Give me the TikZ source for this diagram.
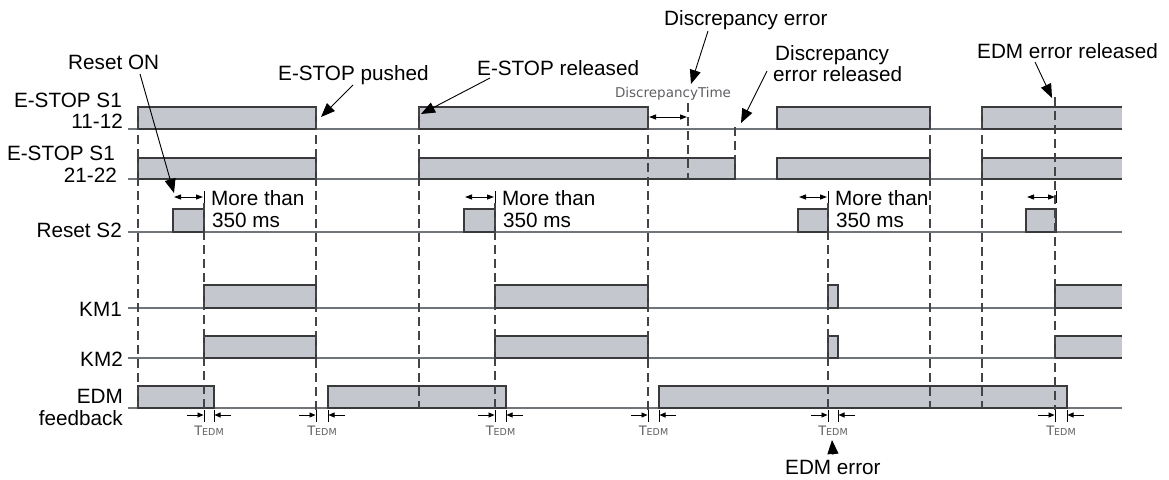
\documentclass[tikz,border=0pt]{standalone}
\usepackage{fontspec}
\setmainfont{Liberation Sans}
\newfontfamily\smallfont{DejaVu Sans}
\usetikzlibrary{arrows.meta}
\definecolor{pfill}{RGB}{196,199,205}
\definecolor{pedge}{RGB}{58,58,60}
\definecolor{axisc}{RGB}{112,117,122}
\definecolor{dashc}{RGB}{68,68,70}
\definecolor{graytxt}{RGB}{95,95,100}
\begin{document}
\begin{tikzpicture}[x=1pt,y=-1pt,
  lbl/.style={font=\fontsize{20.7}{24}\selectfont, inner sep=0pt},
  pulse/.style={fill=pfill, draw=pedge, line width=1.2pt},
  pedgeline/.style={draw=pedge, line width=1.2pt},
  axis/.style={draw=axisc, line width=1.3pt},
  guide/.style={draw=dashc, line width=1.1pt, dash pattern=on 9pt off 5pt},
  ann/.style={draw=black, line width=0.9pt, -{Triangle[length=14pt,width=11pt]}},
  dimarrow/.style={draw=black, line width=1pt, {Triangle[length=7pt,width=5pt]}-{Triangle[length=7pt,width=5pt]}},
  sarrow/.style={draw=black, line width=0.9pt, -{Triangle[length=6pt,width=5pt]}},
  tickline/.style={draw=black, line width=1pt},
  tedm/.style={font=\smallfont\fontsize{13}{14}\selectfont, text=graytxt, inner sep=0pt},
  dtime/.style={font=\smallfont\fontsize{13.5}{14}\selectfont, text=graytxt, inner sep=0pt}
]
\useasboundingbox (0,0) rectangle (1169,479);

% axis lines
\foreach \yb in {129,179,232,308,358,408}
  \draw[axis] (128,\yb) -- (1122,\yb);

% closed pulses
\foreach \a/\b/\t/\yb in {138/316/107/129, 419/648/107/129, 777/930/107/129,
  138/316/158/179, 419/735/158/179, 777/930/158/179,
  173/204/209/232, 464/495/209/232, 798/828/209/232, 1026/1056/209/232,
  204/316/285/308, 495/648/285/308, 828/838/285/308,
  204/316/336/358, 495/648/336/358, 828/838/336/358,
  138/214/386/408, 328/506/386/408, 659/1067/386/408}
  \draw[pulse] (\a,\yb) rectangle (\b,\t);

% open pulses (continuing to the right)
\foreach \a/\t/\yb in {982/107/129, 982/158/179, 1055/285/308, 1055/336/358} {
  \fill[pfill] (\a,\yb) rectangle (1122,\t);
  \draw[pedgeline] (\a,\yb) -- (\a,\t) -- (1122,\t);
  \draw[pedgeline] (\a,\yb) -- (1122,\yb);
}

% dashed guide lines
\foreach \x/\ya/\yb in {138/107/408, 204/203/410, 316/107/410, 419/107/408,
  495/203/410, 648/107/410, 688/103/179, 735/127/179, 828/203/410,
  930/107/408, 982/107/408, 1055/97/410}
  \draw[guide] (\x,\ya) -- (\x,\yb);

% T_EDM markers
\foreach \a/\b/\n in {204/214/1, 316/328/2, 495/506/3, 648/659/4, 828/838/5, 1055/1067/6} {
  \draw[tickline] (\a,410) -- (\a,422);
  \draw[tickline] (\b,410) -- (\b,422);
  \draw[sarrow] (\a-17,415) -- (\a-0.5,415);
  \draw[sarrow] (\b+17,415) -- (\b+0.5,415);
  \node[tedm, anchor=base] (tedm\n) at ({(\a+\b)/2},435) {T{\fontsize{9.5}{10}\selectfont EDM}};
}

% more than 350 ms arrows
\foreach \a/\b in {173/204, 464/495, 798/828, 1026/1056} {
  \draw[dimarrow] (\a+1,197) -- (\b-1,197);
  \draw[tickline] (\b,191) -- (\b,203);
}
\foreach \b/\n in {204/1, 495/2, 828/3} {
  \node[lbl, anchor=base west] (more\n) at (\b+7,205) {More than};
  \node[lbl, anchor=base west] (ms\n) at (\b+8,227) {350 ms};
}

% discrepancy time
\draw[dimarrow] (649,117) -- (687,117);
\node[dtime, anchor=base] (dtime) at (673,97) {DiscrepancyTime};

% left labels
\node[lbl, anchor=base east] (l1a) at (122,107) {E-STOP S1};
\node[lbl, anchor=base east] (l1b) at (123,128) {11-12};
\node[lbl, anchor=base east] (l2a) at (115,160) {E-STOP S1};
\node[lbl, anchor=base east] (l2b) at (117,182) {21-22};
\node[lbl, anchor=base east] (lres) at (122,237) {Reset S2};
\node[lbl, anchor=base east] (lkm1) at (122,316) {KM1};
\node[lbl, anchor=base east] (lkm2) at (123,366) {KM2};
\node[lbl, anchor=base east] (ledm) at (123,403) {EDM};
\node[lbl, anchor=base east] (lfb) at (123,425) {feedback};

% annotations
\node[lbl, anchor=base west] (resetON) at (68,69) {Reset ON};
\node[lbl, anchor=base west] (pushed) at (278,80) {E-STOP pushed};
\node[lbl, anchor=base west] (released) at (477,75) {E-STOP released};
\node[lbl, anchor=base west] (discerr) at (664,25) {Discrepancy error};
\node[lbl, anchor=base west] (discrel1) at (775,60) {Discrepancy};
\node[lbl, anchor=base west] (discrel2) at (773,81) {error released};
\node[lbl, anchor=base west] (edmrel) at (977,58) {EDM error released};
\node[lbl, anchor=base west] (edmerr) at (785,474) {EDM error};

\coordinate (tResetS) at (140,74);   \coordinate (tResetE) at (174,193);
\coordinate (tPushS) at (353,85);    \coordinate (tPushE) at (321,117);
\coordinate (tRelS) at (490,78);     \coordinate (tRelE) at (421,114);
\coordinate (tDeS) at (708,31);      \coordinate (tDeE) at (691,84);
\coordinate (tDrS) at (767,71);      \coordinate (tDrE) at (741,123);
\coordinate (tEdS) at (1035,62);     \coordinate (tEdE) at (1052,98);
\coordinate (tEeS) at (833,455);     \coordinate (tEeE) at (832,440);

\draw[ann] (tResetS) -- (tResetE);
\draw[ann] (tPushS) -- (tPushE);
\draw[ann] (tRelS) -- (tRelE);
\draw[ann] (tDeS) -- (tDeE);
\draw[ann] (tDrS) -- (tDrE);
\draw[ann] (tEdS) -- (tEdE);
\draw[ann] (tEeS) -- (tEeE);
\end{tikzpicture}
\end{document}
